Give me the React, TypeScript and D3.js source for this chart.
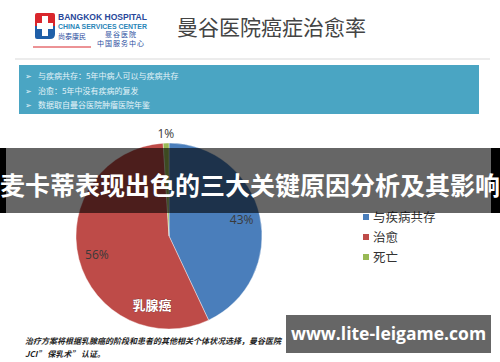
import React from "react";
import * as d3 from "d3";

const categories = ["与疾病共存", "治愈", "死亡"];
const values = [43, 56, 1];
const valueLabels = ["43%", "56%", "1%"];
const colors = ["#4a7ebb", "#be4b48", "#98b954"];
const bullets = [
  "与疾病共存：5年中病人可以与疾病共存",
  "治愈：5年中没有疾病的复发",
  "数据取自曼谷医院肿瘤医院年鉴",
];
const title = "曼谷医院癌症治愈率";
const banner = "麦卡蒂表现出色的三大关键原因分析及其影响";
const caption1 = "治疗方案将根据乳腺癌的阶段和患者的其他相关个体状况选择，曼谷医院";
const caption2 = "JCI” 保乳术” 认证。";
const watermark = "www.lite-leigame.com";
const pieTitle = "乳腺癌";

const W = 500;
const H = 362;
const cx = 169;
const cy = 236;
const R = 93;

export default function App() {
  const pie = d3.pie<number>().sort(null).startAngle(0).endAngle(2 * Math.PI);
  const arcs = pie(values);
  const arc = d3.arc<d3.PieArcDatum<number>>().innerRadius(0).outerRadius(R);
  const inner = d3.arc<d3.PieArcDatum<number>>().innerRadius(R * 0.8).outerRadius(R * 0.8);
  const outer = d3.arc<d3.PieArcDatum<number>>().innerRadius(R + 10).outerRadius(R + 10);
  const cjk = "'Noto Sans CJK SC', 'Noto Sans', sans-serif";

  return (
    <div style={{ position: "fixed", left: 0, top: 0, width: W, height: H, background: "#fff" }}>
      <svg width={W} height={H} style={{ display: "block" }}>
        <rect x={0} y={0} width={W} height={H} fill="#fff" />
        {/* logo */}
        <g>
          <path d="M35,15 Q35,13 37,13 L53,13 Q55,13 55,15 L55,26 L35,26 Z" fill="#d9262c" />
          <path d="M35,26 L55,26 L55,34 Q55,39 50,39 L37,39 Q35,39 35,37 Z" fill="#1f5fa8" />
          <rect x={42} y={16} width={6} height={20} fill="#fff" />
          <rect x={37} y={23} width={16} height={6} fill="#fff" />
          <line x1={33} x2={91} y1={47} y2={47} stroke="#d9262c" strokeWidth={1} />
          <text x={58} y={20} fontSize={9} fontWeight="bold" fill="#27479a" fontFamily="'Liberation Sans', Arial, sans-serif" textLength={89} lengthAdjust="spacingAndGlyphs">BANGKOK HOSPITAL</text>
          <text x={58} y={29} fontSize={7} fontWeight="bold" fill="#2a86b8" fontFamily="'Liberation Sans', Arial, sans-serif" textLength={89} lengthAdjust="spacingAndGlyphs">CHINA SERVICES CENTER</text>
          <text x={58} y={39} fontSize={7} fill="#2a4d9e" fontFamily={cjk}>尚泰康民</text>
          <text x={105} y={37} fontSize={7} fill="#2a4d9e" fontFamily={cjk} letterSpacing={1}>曼谷医院</text>
          <text x={97} y={46} fontSize={7} fill="#2a4d9e" fontFamily={cjk} letterSpacing={1}>中国服务中心</text>
        </g>
        <text x={177} y={35} fontSize={21} fill="#444" fontFamily={cjk}>{title}</text>
        <line x1={15} x2={490} y1={59} y2={59} stroke="#e6e6e6" strokeWidth={1.5} />
        {/* teal box */}
        <rect x={19} y={65} width={460} height={49} fill="#4aa5c3" />
        {bullets.map((b, i) => (
          <g key={i}>
            <text x={25} y={79 + i * 14.5} fontSize={8} fill="#e4f3f8" fontFamily={cjk}>➢</text>
            <text x={38} y={79 + i * 14.5} fontSize={8} fill="#e4f3f8" fontFamily={cjk}>{b}</text>
          </g>
        ))}
        {/* pie */}
        <g transform={`translate(${cx},${cy})`}>
          {arcs.map((a, i) => (
            <path key={i} d={arc(a) || ""} fill={colors[i]} stroke="#fff" strokeWidth={0.4} />
          ))}
          {arcs.map((a, i) => {
            const p = i === 2 ? outer.centroid(a) : inner.centroid(a);
            return (
              <text key={i} x={p[0]} y={p[1]} fontSize={12} fill="#3a3a3a" textAnchor="middle" dominantBaseline="central" fontFamily="'Open Sans', 'Noto Sans', sans-serif">
                {valueLabels[i]}
              </text>
            );
          })}
        </g>
        <text x={152} y={310} fontSize={13} fontWeight="bold" fill="#fff" textAnchor="middle" fontFamily={cjk} stroke="#7a3030" strokeWidth={0.6} paintOrder="stroke">{pieTitle}</text>
        {/* legend */}
        {categories.map((c, i) => (
          <g key={c}>
            <rect x={363} y={214 + i * 20} width={6} height={6} fill={colors[i]} />
            <text x={373} y={221.5 + i * 20} fontSize={12.5} fill="#333" fontFamily={cjk}>{c}</text>
          </g>
        ))}
        {/* captions */}
        <text x={25} y={344} fontSize={8} fontStyle="italic" fontWeight="bold" fill="#222" fontFamily={cjk}>{caption1}</text>
        <text x={25} y={357} fontSize={8} fontStyle="italic" fontWeight="bold" fill="#222" fontFamily={cjk}>{caption2}</text>
        {/* banner overlay */}
        <rect x={0} y={148} width={W} height={65} fill="rgba(0,0,0,0.6)" />
        <rect x={0} y={148} width={6} height={65} fill="#000" />
        <rect x={491} y={148} width={9} height={65} fill="#000" />
        <text x={250} y={195} fontSize={25} fontWeight="bold" fill="#fff" textAnchor="middle" fontFamily={cjk}>{banner}</text>
        {/* watermark */}
        <rect x={286} y={315} width={205} height={38} fill="#666" />
        <text x={388.5} y={340} fontSize={17.5} fontWeight="bold" fill="#fff" textAnchor="middle" fontFamily="'Open Sans', sans-serif">{watermark}</text>
      </svg>
    </div>
  );
}
